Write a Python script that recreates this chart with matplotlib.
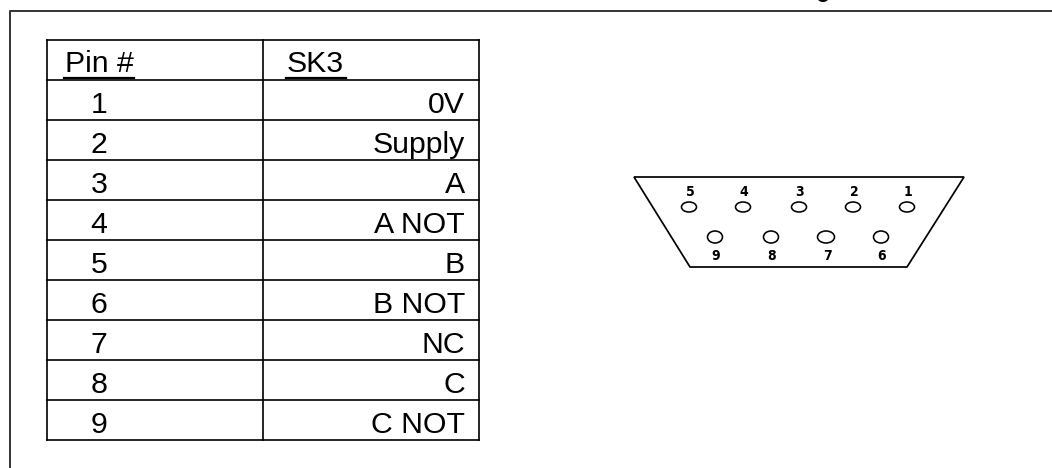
import matplotlib
matplotlib.use("Agg")
import matplotlib.pyplot as plt
from matplotlib.patches import Ellipse, Polygon

pins = ["1", "2", "3", "4", "5", "6", "7", "8", "9"]
signals = ["0V", "Supply", "A", "A NOT", "B", "B NOT", "NC", "C", "C NOT"]
headers = ["Pin #", "SK3"]

top_labels = ["5", "4", "3", "2", "1"]
top_x = [689, 743, 799, 853, 907]
bottom_labels = ["9", "8", "7", "6"]
bottom_x = [715, 771, 826, 881]

plt.rcParams['font.family'] = ['Liberation Sans', 'DejaVu Sans']

fig = plt.figure(figsize=(10.52, 4.68), dpi=100)
ax = fig.add_axes([0, 0, 1, 1])
ax.set_xlim(0, 1052)
ax.set_ylim(468, 0)
ax.axis("off")

# outer frame, only left and top are in the picture
ax.plot([9.5, 9.5, 1052], [468, 11, 11], color="#333333", lw=1.4)

# table grid
left, mid, right = 47, 263, 479
top, row_h = 40, 40
n_rows = len(pins) + 1
for i in range(n_rows + 1):
    y = top + i * row_h
    ax.plot([left, right], [y, y], color="black", lw=1.2, solid_capstyle="projecting")
for x in [left, mid, right]:
    ax.plot([x, x], [top, top + n_rows * row_h], color="black", lw=1.2, solid_capstyle="projecting")

fs = 21.8
ax.text(65, 72, headers[0], fontsize=fs, ha="left", va="baseline")
ax.text(287, 72, headers[1], fontsize=fs, ha="left", va="baseline")
ax.plot([64, 134], [77.5, 77.5], color="black", lw=1.6)
ax.plot([286, 346], [77.5, 77.5], color="black", lw=1.6)

for i, (p, s) in enumerate(zip(pins, signals)):
    base = 113 + i * row_h
    ax.text(99, base, p, fontsize=fs, ha="center", va="baseline")
    ax.text(465, base, s, fontsize=fs, ha="right", va="baseline")

# connector outline
ax.add_patch(Polygon([(634, 177), (964, 177), (907, 267), (690, 267)], closed=True,
                     fill=False, edgecolor="black", lw=1.25))

pin_font = ['DejaVu Sans']
for x, lab in zip(top_x, top_labels):
    ax.add_patch(Ellipse((x, 207), 15, 10, fill=False, edgecolor="black", lw=1.15))
    ax.text(x + 1, 192, lab, fontsize=10, fontweight="bold", fontstretch="condensed",
            family=pin_font, ha="center", va="center")
for x, lab in zip(bottom_x, bottom_labels):
    w = 17 if lab == "7" else 15
    ax.add_patch(Ellipse((x, 237), w, 12, fill=False, edgecolor="black", lw=1.15))
    ax.text(x + 1, 256, lab, fontsize=10, fontweight="bold", fontstretch="condensed",
            family=pin_font, ha="center", va="center")

# bottom of a cut off letter at the top edge
ax.add_patch(Ellipse((823, -1), 10, 6, color="black", lw=0))

fig.savefig("out.png", dpi=100)
